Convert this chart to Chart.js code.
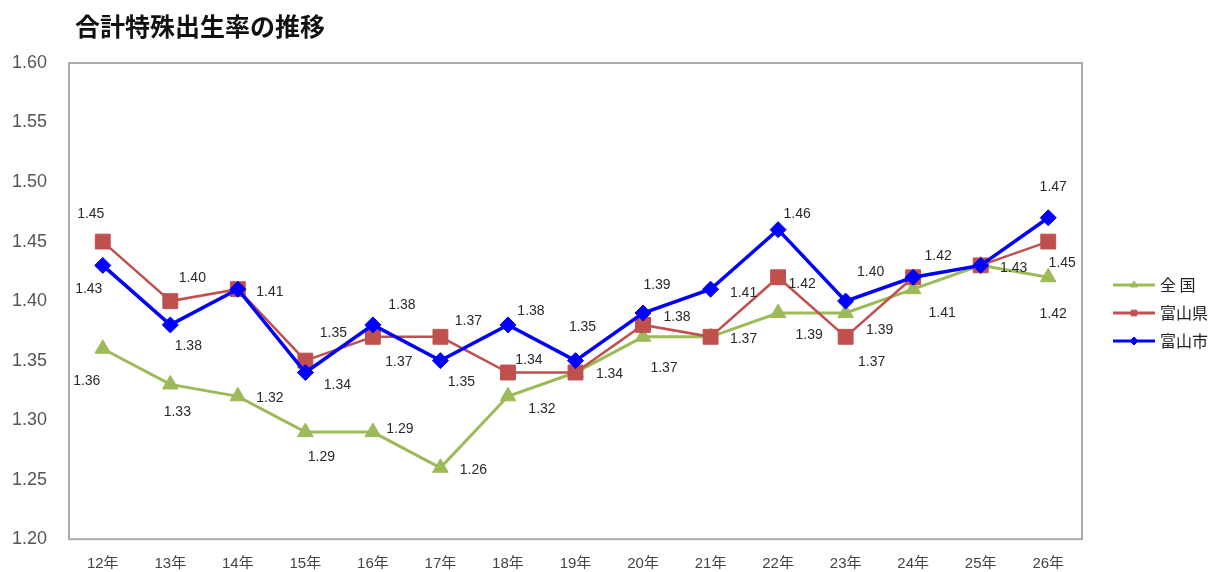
<!DOCTYPE html>
<html>
<head>
<meta charset="utf-8">
<script src="https://cdn.jsdelivr.net/npm/chart.js@4.4.0/dist/chart.umd.min.js"></script>
<style>
  html, body { margin: 0; padding: 0; background: #ffffff; }
  #wrap { position: relative; width: 1212px; height: 572px; }
</style>
</head>
<body>
<div id="wrap"><canvas id="c"></canvas></div>
<script>
// ---- data ----
const chartTitle = '合計特殊出生率の推移';
const years = ['12年','13年','14年','15年','16年','17年','18年','19年','20年','21年','22年','23年','24年','25年','26年'];
const seriesNames = ['全 国', '富山県', '富山市'];
const zenkoku   = [1.36, 1.33, 1.32, 1.29, 1.29, 1.26, 1.32, 1.34, 1.37, 1.37, 1.39, 1.39, 1.41, 1.43, 1.42];
const toyamaKen = [1.45, 1.40, 1.41, 1.35, 1.37, 1.37, 1.34, 1.34, 1.38, 1.37, 1.42, 1.37, 1.42, 1.43, 1.45];
const toyamaShi = [1.43, 1.38, 1.41, 1.34, 1.38, 1.35, 1.38, 1.35, 1.39, 1.41, 1.46, 1.40, 1.42, 1.43, 1.47];
const yMin = 1.20, yMax = 1.60, yStep = 0.05;

// ---- styles ----
const GREEN = '#9BBB59', RED = '#C0504D', BLUE = '#0000FF';
const NUM_FONT = '"Liberation Sans", Arial, "Noto Sans CJK JP", sans-serif';
const JP_FONT = '"Noto Sans CJK JP", "Liberation Sans", sans-serif';

const datasets = [
  {
    label: seriesNames[0], data: zenkoku, order: 2,
    borderColor: GREEN, backgroundColor: GREEN, borderWidth: 3,
    pointStyle: 'triangle', pointRadius: 9, pointBorderWidth: 1,
    pointBorderColor: GREEN, pointBackgroundColor: GREEN,
    labelOffsets: [[-16,32],[7,28],[32,2],[16,25],[27,-3],[33,2],[34,13],null,[21,31],null,[31,22],[34,17],[29,24],null,[5,37]]
  },
  {
    label: seriesNames[1], data: toyamaKen, order: 1,
    borderColor: RED, backgroundColor: RED, borderWidth: 2.5,
    pointStyle: 'rect', pointRadius: 10.5, pointBorderWidth: 1,
    pointBorderColor: RED, pointBackgroundColor: RED,
    labelOffsets: [[-12,-27],[22,-23],[32,3],[28,-27],[26,25],[28,-16],[21,-12],[34,2],[34,-8],[33,2],[24,7],[26,25],null,[33,3],[14,22]]
  },
  {
    label: seriesNames[2], data: toyamaShi, order: 0,
    borderColor: BLUE, backgroundColor: BLUE, borderWidth: 3.5,
    pointStyle: 'rectRot', pointRadius: 8, pointBorderWidth: 1,
    pointBorderColor: BLUE, pointBackgroundColor: BLUE,
    labelOffsets: [[-14,24],[18,21],null,[32,13],[29,-20],[21,22],[23,-14],[7,-33],[14,-28],[33,4],[19,-16],[25,-29],[25,-21],null,[5,-31]]
  }
];

const decoPlugin = {
  id: 'deco',
  beforeDraw(chart) {
    const ctx = chart.ctx;
    ctx.save();
    ctx.fillStyle = '#ffffff';
    ctx.fillRect(0, 0, chart.width, chart.height);
    ctx.restore();
  },
  beforeDatasetsDraw(chart) {
    const { ctx, chartArea: a } = chart;
    ctx.save();
    ctx.strokeStyle = '#ABABAB';
    ctx.lineWidth = 2;
    ctx.strokeRect(a.left, a.top, a.right - a.left, a.bottom - a.top);
    ctx.restore();
  },
  afterDatasetsDraw(chart) {
    const { ctx, chartArea: a } = chart;
    ctx.save();
    // value labels
    ctx.font = '14px ' + NUM_FONT;
    ctx.fillStyle = '#2a2a2a';
    ctx.textAlign = 'center';
    ctx.textBaseline = 'middle';
    chart.data.datasets.forEach((ds, di) => {
      const meta = chart.getDatasetMeta(di);
      meta.data.forEach((pt, i) => {
        const off = ds.labelOffsets[i];
        if (!off) return;
        ctx.fillText(ds.data[i].toFixed(2), pt.x + off[0], pt.y + off[1]);
      });
    });
    // title
    ctx.font = 'bold 25px ' + JP_FONT;
    ctx.fillStyle = '#111111';
    ctx.textAlign = 'left';
    ctx.fillText(chartTitle, 75, 26);
    // legend
    const lx = a.right + 31, lw = 42;
    chart.data.datasets.forEach((ds, di) => {
      const y = a.top + 222 + di * 28;
      ctx.strokeStyle = ds.borderColor;
      ctx.lineWidth = 3;
      ctx.beginPath();
      ctx.moveTo(lx, y);
      ctx.lineTo(lx + lw, y);
      ctx.stroke();
      ctx.fillStyle = ds.borderColor;
      ctx.strokeStyle = ds.borderColor;
      ctx.lineWidth = 1;
      Chart.helpers.drawPoint(ctx, { pointStyle: ds.pointStyle, radius: 4, rotation: 0, borderWidth: 1 }, lx + lw / 2, y);
      ctx.fillStyle = '#222222';
      ctx.font = '16px ' + JP_FONT;
      ctx.textAlign = 'left';
      ctx.textBaseline = 'middle';
      ctx.fillText(ds.label, lx + lw + 5, y);
    });
    ctx.restore();
  }
};

new Chart(document.getElementById('c'), {
  type: 'line',
  data: { labels: years, datasets: datasets },
  options: {
    responsive: true,
    maintainAspectRatio: false,
    animation: false,
    devicePixelRatio: 1,
    layout: { padding: { top: 63, right: 130, left: 0, bottom: 0 } },
    plugins: { legend: { display: false }, title: { display: false }, tooltip: { enabled: false } },
    elements: { line: { tension: 0 } },
    scales: {
      x: {
        offset: true,
        grid: { display: false, drawTicks: false },
        border: { display: false },
        ticks: { color: '#444444', font: { size: 15, family: NUM_FONT }, padding: 16, maxRotation: 0, autoSkip: false },
        afterFit(scale) { scale.height = 30; }
      },
      y: {
        min: yMin, max: yMax,
        grid: { display: false, drawTicks: false },
        border: { display: false },
        ticks: {
          stepSize: yStep, color: '#555555', font: { size: 18, family: NUM_FONT }, padding: 22,
          callback: (v) => Number(v).toFixed(2)
        },
        afterFit(scale) { scale.width = 69; }
      }
    }
  },
  plugins: [decoPlugin]
});
</script>
</body>
</html>
